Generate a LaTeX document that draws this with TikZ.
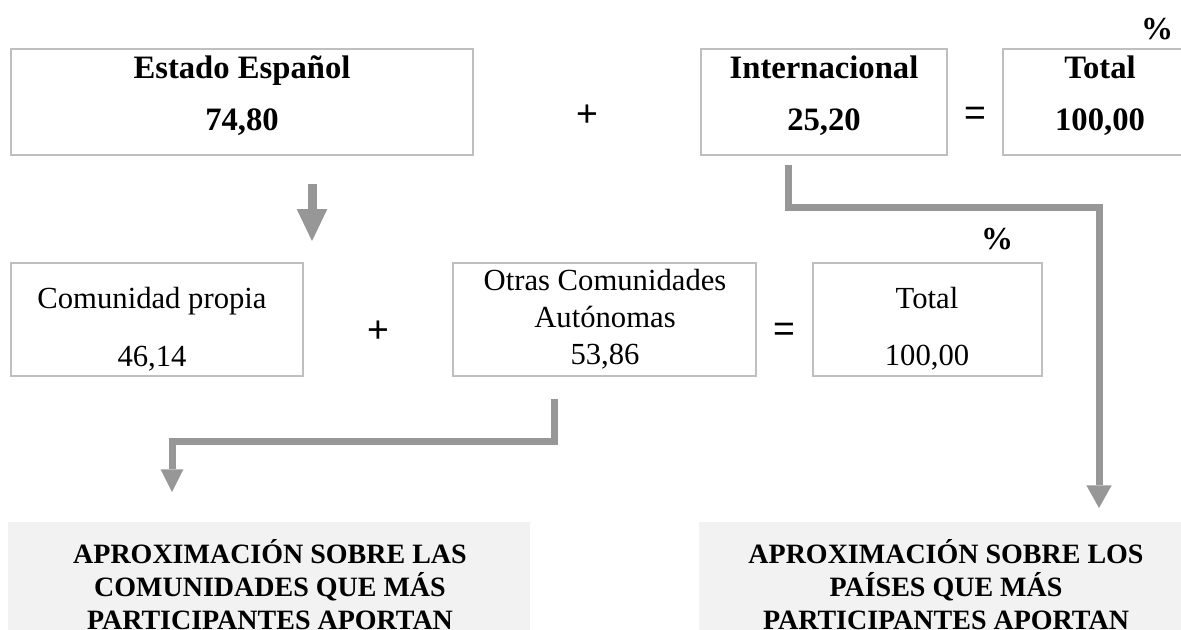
\documentclass[tikz,border=0pt]{standalone}
\usepackage{fontspec}
\setmainfont{Liberation Serif}
\newfontfamily\signos{Liberation Sans}
\usetikzlibrary{arrows.meta}
\definecolor{marco}{HTML}{BFBFBF}
\definecolor{flecha}{HTML}{979797}
\definecolor{fondo}{HTML}{F2F2F2}
\newcommand{\lineas}[1]{\begin{tabular}[t]{@{}c@{}}#1\end{tabular}}
\tikzset{
  caja/.style={draw=marco, line width=1.5pt, inner sep=0pt, outer sep=0pt},
  gris/.style={fill=fondo, inner sep=0pt, outer sep=0pt},
  tam/.style 2 args={minimum width={#1*0.75pt}, minimum height={#2*0.75pt}},
  negra/.style={anchor=base, inner sep=0pt, font=\fontsize{24.5}{#1}\selectfont\bfseries},
  fina/.style={anchor=base, inner sep=0pt, font=\fontsize{23}{#1}\selectfont},
  titulo/.style={anchor=base, inner sep=0pt, font=\fontsize{21}{24.75}\selectfont\bfseries},
  signo/.style={inner sep=0pt, font=\signos\fontsize{28}{30}\selectfont},
  pct/.style={inner sep=0pt, font=\fontsize{24}{26}\selectfont\bfseries},
  conector/.style={draw=flecha, line width=5.25pt},
}
\begin{document}
\begin{tikzpicture}[x=0.75pt, y=-0.75pt]
  \useasboundingbox (0,0) rectangle (1181,629);
  \clip (0,0) rectangle (1181,629);

  % fila de arriba
  \node[caja, tam={462}{106}] (estado) at (242,102) {};
  \node[caja, tam={246}{106}] (inter) at (824,102) {};
  \node[caja, tam={194}{106}] (total) at (1100,102) {};
  \node[negra=39] (estadoT) at (242,78) {\lineas{Estado Español\\74,80}};
  \node[negra=39] (interT) at (824,78) {\lineas{Internacional\\25,20}};
  \node[negra=39] (totalT) at (1100,78) {\lineas{Total\\100,00}};
  \node[signo] (mas1) at (587,116) {+};
  \node[signo] (igual1) at (975,116) {=};
  \node[pct] (pct1) at (1157,29) {\%};

  % fila del medio
  \node[caja, tam={292}{113}] (propia) at (157,319.5) {};
  \node[caja, tam={303}{113}] (otras) at (604.5,319.5) {};
  \node[caja, tam={229}{113}] (total2) at (927.5,319.5) {};
  \node[fina=43.5] (propiaT) at (152,308) {\lineas{Comunidad propia\\46,14}};
  \node[fina=28] (otrasT) at (605,290) {\lineas{Otras Comunidades\\Autónomas\\53,86}};
  \node[fina=42.75] (total2T) at (927,308) {\lineas{Total\\100,00}};
  \node[signo] (mas2) at (378,332) {+};
  \node[signo] (igual2) at (784,332) {=};
  \node[pct] (pct2) at (997,239) {\%};

  % cajas de abajo
  \node[gris, tam={522}{140}] (comun) at (269,592) {};
  \node[gris, tam={494}{140}] (paises) at (946,592) {};
  \node[titulo] (comunT) at (270,563) {\lineas{APROXIMACIÓN SOBRE LAS\\COMUNIDADES QUE MÁS\\PARTICIPANTES APORTAN}};
  \node[titulo] (paisesT) at (946,563) {\lineas{APROXIMACIÓN SOBRE LOS\\PAÍSES QUE MÁS\\PARTICIPANTES APORTAN}};

  % flechas
  \draw[conector, line width=6.75pt, -{Triangle[width=23pt,length=24pt,line width=0pt]}]
    ([shift={(70,29)}]estado.south) -- ([shift={(155,-22)}]propia.north);
  \draw[conector, -{Triangle[width=19pt,length=17pt,line width=0pt]}]
    ([shift={(-36,10)}]inter.south) -- ++(0,42) -| ([shift={(153,-14)}]paises.north);
  \draw[conector, -{Triangle[width=17pt,length=17pt,line width=0pt]}]
    ([shift={(-50.5,23)}]otras.south) -- ++(0,42) -| ([shift={(-97,-30)}]comun.north);
\end{tikzpicture}
\end{document}
